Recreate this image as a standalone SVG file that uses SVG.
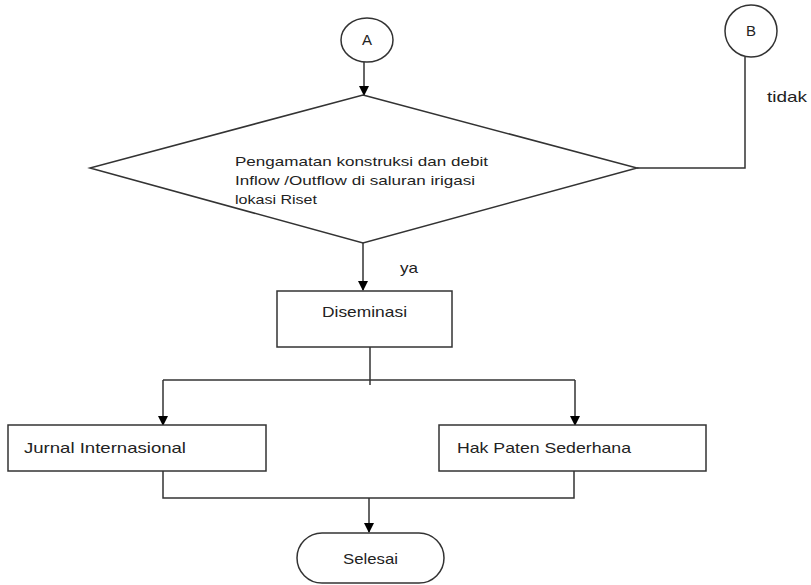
<svg xmlns="http://www.w3.org/2000/svg" width="811" height="585" viewBox="0 0 811 585">
<defs>
<marker id="ah" markerWidth="10" markerHeight="10" refX="9" refY="5" orient="auto" markerUnits="userSpaceOnUse">
<path d="M0,0 L10,5 L0,10 Z" fill="#000"/>
</marker>
<style>
.s{fill:#fff;stroke:#333;stroke-width:1.5}
.t{font-family:"Liberation Sans",Arial,sans-serif;font-size:15px;fill:#222}
.d{font-family:"Liberation Sans",Arial,sans-serif;font-size:13.5px;fill:#222}
.c{fill:none;stroke:#333;stroke-width:1.5}
</style>
</defs>
<rect width="811" height="585" fill="#fff"/>
<g id="connectors">
<path class="c" d="M364,62 V95" marker-end="url(#ah)"/>
<path class="c" d="M637,168 H745 V57"/>
<path class="c" d="M363,243 V290" marker-end="url(#ah)"/>
<path class="c" d="M370,339 V385"/>
<path class="c" d="M163,380 H575"/>
<path class="c" d="M163,380 V425" marker-end="url(#ah)"/>
<path class="c" d="M575,380 V425" marker-end="url(#ah)"/>
<path class="c" d="M163,466 V498 H574 V466"/>
<path class="c" d="M369,498 V532" marker-end="url(#ah)"/>
</g>
<g id="nodeA">
<ellipse class="s" cx="367" cy="40" rx="26" ry="22"/>
<text class="t" x="367" y="45" text-anchor="middle">A</text>
</g>
<g id="nodeB">
<ellipse class="s" cx="751" cy="31" rx="26" ry="26"/>
<text class="t" x="751" y="36" text-anchor="middle">B</text>
</g>
<g id="decision">
<polygon class="s" points="363,95 637,168 363,243 90,168"/>
<text class="d" x="235" y="166" textLength="253" lengthAdjust="spacingAndGlyphs">Pengamatan konstruksi dan debit</text>
<text class="d" x="235" y="185" textLength="240" lengthAdjust="spacingAndGlyphs">Inflow /Outflow di saluran irigasi</text>
<text class="d" x="235" y="204" textLength="82" lengthAdjust="spacingAndGlyphs">lokasi Riset</text>
</g>
<text class="t" x="767" y="102" textLength="40" lengthAdjust="spacingAndGlyphs">tidak</text>
<text class="t" x="400" y="273" textLength="18" lengthAdjust="spacingAndGlyphs">ya</text>
<g id="diseminasi">
<rect class="s" x="277" y="291" width="175" height="56"/>
<text class="t" x="322" y="317" textLength="85" lengthAdjust="spacingAndGlyphs">Diseminasi</text>
</g>
<g id="jurnal">
<rect class="s" x="8" y="425" width="258" height="46"/>
<text class="t" x="24" y="453" textLength="162" lengthAdjust="spacingAndGlyphs">Jurnal Internasional</text>
</g>
<g id="paten">
<rect class="s" x="439" y="425" width="267" height="46"/>
<text class="t" x="457" y="453" textLength="174" lengthAdjust="spacingAndGlyphs">Hak Paten Sederhana</text>
</g>
<g id="selesai">
<rect class="s" x="297" y="533" width="147" height="50" rx="25" ry="25"/>
<text class="t" x="343" y="564" textLength="55" lengthAdjust="spacingAndGlyphs">Selesai</text>
</g>
</svg>
